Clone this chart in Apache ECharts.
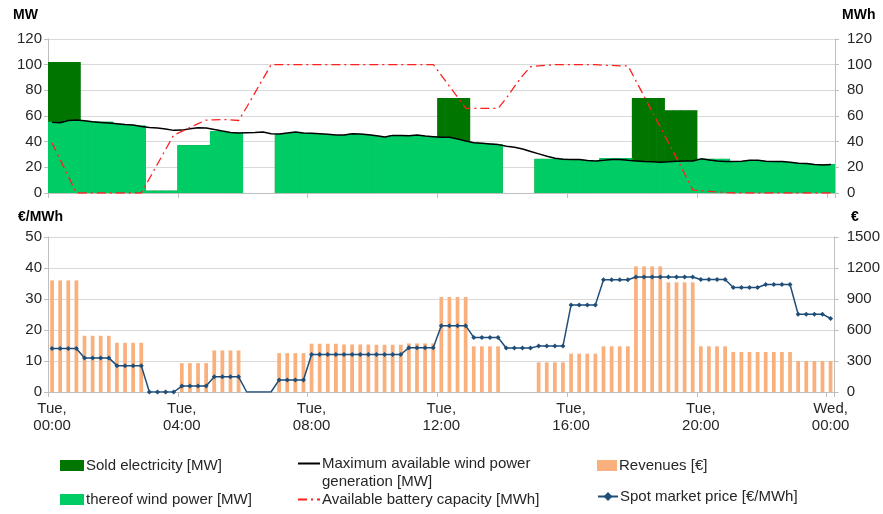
<!DOCTYPE html>
<html>
<head>
<meta charset="utf-8">
<script src="https://cdn.jsdelivr.net/npm/echarts@6/dist/echarts.min.js"></script>
<style>
  html, body { margin: 0; padding: 0; background: #fff; }
  #main { width: 883px; height: 514px; }
</style>
</head>
<body>
<div id="main"></div>
<script>
// 15-minute slots from Tue 00:00 to Wed 00:00 (97 points)
const tickLabels = ['Tue,\n00:00', 'Tue,\n04:00', 'Tue,\n08:00', 'Tue,\n12:00', 'Tue,\n16:00', 'Tue,\n20:00', 'Wed,\n00:00']
const slots = []
for (let i = 0; i <= 96; i++) {
    slots.push(i % 16 === 0 ? tickLabels[i / 16] : String(i))
}

// sold electricity [MW]
const soldMW = [
    102, 102, 102, 102, 55.5, 55.5, 55.5, 55.5, 52.5, 52.5, 52.5, 52.5, 1.8, 1.8, 1.8, 1.8,
    37.2, 37.2, 37.2, 37.2, 46.9, 46.9, 46.9, 46.9, 0, 0, 0, 0, 45.9, 45.9, 45.9, 45.9,
    45.2, 45.2, 45.2, 45.2, 45.2, 45.2, 45.2, 45.2, 43.6, 43.6, 43.6, 43.6, 43.9, 43.9, 43.9, 43.9,
    74.1, 74.1, 74.1, 74.1, 38, 38, 38, 38, 0, 0, 0, 0, 26.6, 26.6, 26.6, 26.6,
    25, 25, 25, 25, 27.1, 27.1, 27.1, 27.1, 74.1, 74.1, 74.1, 74.1, 64.5, 64.5, 64.5, 64.5,
    26.6, 26.6, 26.6, 26.6, 24.5, 24.5, 24.5, 24.5, 24, 24, 24, 24, 22.5, 22.5, 22.5, 22.5,
    22.5
]

// thereof wind power [MW]
const windMW = [
    55.5, 55, 56.5, 56.8, 56.3, 55.8, 55.5, 55.5, 54, 53.4, 52.9, 52.5, 1.8, 1.8, 1.8, 1.8,
    37.2, 37.2, 37.2, 37.2, 48.3, 48.3, 47.5, 46.9, 0, 0, 0, 0, 45.9, 46.7, 47.5, 46.7,
    46.5, 46.2, 45.7, 45.2, 45.2, 46.2, 45.9, 45.4, 44.6, 43.6, 44.9, 44.9, 44.6, 45.2, 44.4, 43.9,
    43.4, 43.4, 42.1, 40.5, 39.5, 39, 38.5, 38, 0, 0, 0, 0, 26.6, 26.6, 26.6, 26.6,
    26.1, 26.1, 25.3, 25, 27.1, 27.1, 27.1, 27.1, 25, 24.5, 24.3, 24, 24.3, 24.8, 25, 25,
    26.6, 26.6, 26.6, 26.6, 24.5, 24.8, 25.5, 25.5, 24.8, 24.5, 24.5, 24, 23.2, 23, 22.5, 22.5,
    22.5
]

// maximum available wind power generation [MW]
const maxWindMW = [
    55.2, 54.7, 56.5, 56.8, 56.3, 55.5, 55, 54.5, 54, 53.4, 52.9, 51.9, 51.1, 50.6, 49.8, 48.8,
    49, 50, 50.8, 50.6, 49.5, 48.3, 47.2, 46.7, 47, 47.2, 47.5, 46.2, 45.9, 46.7, 47.5, 46.7,
    46.5, 46.2, 45.7, 45.2, 45.2, 46.2, 45.9, 45.4, 44.6, 43.6, 44.9, 44.9, 44.6, 45.2, 44.4, 43.9,
    43.4, 43.4, 42.1, 40.5, 39.2, 38.7, 38.2, 37.7, 36.4, 35.6, 34.3, 32.3, 30.5, 28.6, 27.1, 26.3,
    26.1, 26.1, 25.3, 25, 25.5, 26.1, 26.1, 25.5, 25, 24.5, 24.3, 24, 24.3, 24.8, 25, 25,
    26.6, 25.8, 25, 24.5, 24.5, 24.8, 25.5, 25.5, 24.8, 24.5, 24.5, 24, 23.2, 23, 22.2, 21.9,
    22.2
]

// available battery capacity [MWh]
const batteryMWh = [
    39, 26, 13, 0, 0, 0, 0, 0, 0, 0, 0, 0, 11.3, 22.6, 34, 45.2,
    48, 51, 54, 56.8, 57, 57.3, 57, 56.5, 67, 78, 89, 100, 100, 100, 100, 100,
    100, 100, 100, 100, 100, 100, 100, 100, 100, 100, 100, 100, 100, 100, 100, 100,
    91.5, 83, 74.5, 66, 66, 66, 66, 66, 74, 83, 91.5, 98.5, 99, 99.5, 100, 100,
    100, 100, 100, 100, 99.5, 99.5, 99, 99, 87, 75, 63, 51, 39, 27, 14.5, 2.2,
    1.8, 1.3, 0.8, 0.4, 0, 0, 0, 0, 0, 0, 0, 0, 0, 0, 0, 0,
    0
]

// revenues [€]
const revenuesEUR = [
    1080, 1080, 1080, 1080, 544, 544, 544, 544, 476, 476, 476, 476, 0, 0, 0, 0,
    279, 279, 279, 279, 402, 402, 402, 402, 0, 0, 0, 0, 376, 376, 376, 376,
    467, 467, 467, 467, 460, 460, 460, 460, 457, 457, 457, 457, 470, 470, 470, 470,
    919, 919, 919, 919, 442, 442, 442, 442, 0, 0, 0, 0, 287, 287, 287, 287,
    371, 371, 371, 371, 442, 442, 442, 442, 1216, 1216, 1216, 1216, 1061, 1061, 1061, 1061,
    442, 442, 442, 442, 387, 387, 387, 387, 387, 387, 387, 387, 300, 300, 300, 300,
    300
]

// spot market price [€/MWh]
const spotPrice = [
    14, 14, 14, 14, 11, 11, 11, 11, 8.5, 8.5, 8.5, 8.5, 0, 0, 0, 0,
    1.9, 1.9, 1.9, 1.9, 4.9, 4.9, 4.9, 4.9, 0, 0, 0, 0, 3.9, 3.9, 3.9, 3.9,
    12.1, 12.1, 12.1, 12.1, 12.1, 12.1, 12.1, 12.1, 12.1, 12.1, 12.1, 12.1, 14.3, 14.3, 14.3, 14.3,
    21.4, 21.4, 21.4, 21.4, 17.6, 17.6, 17.6, 17.6, 14.2, 14.2, 14.2, 14.2, 14.8, 14.8, 14.8, 14.8,
    28.1, 28.1, 28.1, 28.1, 36.2, 36.2, 36.2, 36.2, 37.1, 37.1, 37.1, 37.1, 37.1, 37.1, 37.1, 37.1,
    36.3, 36.3, 36.3, 36.3, 33.7, 33.7, 33.7, 33.7, 34.7, 34.7, 34.7, 34.7, 25.1, 25.1, 25.1, 25.1,
    23.7
]
// slots where the price line has no marker
const priceNoMarker = [24, 25, 26, 27]

const FONT = 'Liberation Sans'
const axisGray = '#bfbfbf'
const gridGray = '#d9d9d9'
const textColor = '#262626'
const every16 = (idx) => idx % 16 === 0
const blankZero = (arr) => arr.map(v => v === 0 ? null : v)

function xAxisFor(gridIndex, showLabels) {
    return {
        type: 'category',
        gridIndex: gridIndex,
        data: slots,
        boundaryGap: true,
        axisLine: { show: true, lineStyle: { color: axisGray } },
        axisTick: { show: true, interval: every16, length: 5, lineStyle: { color: axisGray } },
        axisLabel: {
            show: showLabels,
            interval: every16,
            color: textColor,
            fontFamily: FONT,
            fontSize: 15,
            lineHeight: 17,
            margin: 8
        },
        splitLine: { show: false }
    }
}

function yAxisFor(gridIndex, position, max, interval, showSplit) {
    return {
        type: 'value',
        gridIndex: gridIndex,
        position: position,
        min: 0,
        max: max,
        interval: interval,
        axisLine: { show: true, lineStyle: { color: axisGray } },
        axisTick: { show: true, length: 4, lineStyle: { color: axisGray } },
        axisLabel: {
            color: textColor,
            fontFamily: FONT,
            fontSize: 15,
            margin: position === 'left' ? 6 : 12,
            formatter: (v) => String(v)
        },
        splitLine: { show: showSplit, lineStyle: { color: gridGray } }
    }
}

function legendFor(name, left, top, w, h, extra) {
    return Object.assign({
        data: [name],
        left: left,
        top: top,
        itemWidth: w,
        itemHeight: h,
        itemGap: 2,
        padding: 0,
        selectedMode: false,
        textStyle: { color: textColor, fontFamily: FONT, fontSize: 15, padding: [0, 0, 0, -3] }
    }, extra || {})
}

const unitStyle = { fontFamily: FONT, fontSize: 14, fontWeight: 'bold', fill: '#000' }

var chartDom = document.getElementById('main')
var myChart = echarts.init(chartDom)
var option

option = {
    animation: false,
    backgroundColor: '#fff',
    grid: [
        { left: 48, top: 39, width: 787, height: 154 },
        { left: 48, top: 237, width: 787, height: 155 }
    ],
    xAxis: [xAxisFor(0, false), xAxisFor(1, true)],
    yAxis: [
        yAxisFor(0, 'left', 120, 20, true),
        yAxisFor(0, 'right', 120, 20, false),
        yAxisFor(1, 'left', 50, 10, true),
        yAxisFor(1, 'right', 1500, 300, false)
    ],
    graphic: [
        { type: 'text', left: 13, top: 8, style: Object.assign({ text: 'MW' }, unitStyle) },
        { type: 'text', left: 842, top: 8, style: Object.assign({ text: 'MWh' }, unitStyle) },
        { type: 'text', left: 18, top: 210, style: Object.assign({ text: '€/MWh' }, unitStyle) },
        { type: 'text', left: 851, top: 210, style: Object.assign({ text: '€' }, unitStyle) },
        { type: 'text', left: 322, top: 474, style: { text: 'generation [MW]', fontFamily: FONT, fontSize: 15, fill: textColor } }
    ],
    legend: [
        legendFor('Sold electricity [MW]', 60, 458, 24, 11, { icon: 'rect' }),
        legendFor('thereof wind power [MW]', 60, 492, 24, 11, { icon: 'rect' }),
        legendFor('Maximum available wind power generation [MW]', 297, 456, 22, 11, {
            formatter: () => 'Maximum available wind power',
            itemStyle: { opacity: 0 }
        }),
        legendFor('Available battery capacity [MWh]', 297, 492, 22, 11, { itemStyle: { opacity: 0 } }),
        legendFor('Revenues [€]', 597, 458, 20, 11, { icon: 'rect' }),
        legendFor('Spot market price [€/MWh]', 597, 489, 20, 11)
    ],
    series: [
        {
            name: 'Sold electricity [MW]',
            type: 'bar',
            xAxisIndex: 0,
            yAxisIndex: 0,
            barCategoryGap: '-8%',
            itemStyle: { color: '#007500' },
            data: blankZero(soldMW)
        },
        {
            name: 'thereof wind power [MW]',
            type: 'bar',
            xAxisIndex: 0,
            yAxisIndex: 0,
            barGap: '-100%',
            barCategoryGap: '-8%',
            itemStyle: { color: '#00cc66' },
            data: blankZero(windMW)
        },
        {
            name: 'Maximum available wind power generation [MW]',
            type: 'line',
            xAxisIndex: 0,
            yAxisIndex: 0,
            symbol: 'none',
            lineStyle: { color: '#000', width: 1.5 },
            itemStyle: { color: '#000' },
            data: maxWindMW,
            z: 3
        },
        {
            name: 'Available battery capacity [MWh]',
            type: 'line',
            xAxisIndex: 0,
            yAxisIndex: 1,
            symbol: 'none',
            lineStyle: { color: '#ff1f1f', width: 1.3, type: [9, 4, 2, 4] },
            itemStyle: { color: '#ff1f1f' },
            data: batteryMWh,
            z: 4
        },
        {
            name: 'Revenues [€]',
            type: 'bar',
            xAxisIndex: 1,
            yAxisIndex: 3,
            barWidth: '46%',
            itemStyle: { color: '#f9b07c' },
            data: blankZero(revenuesEUR)
        },
        {
            name: 'Spot market price [€/MWh]',
            type: 'line',
            xAxisIndex: 1,
            yAxisIndex: 2,
            symbol: 'diamond',
            symbolSize: 5,
            lineStyle: { color: '#1f4e79', width: 1.5 },
            itemStyle: { color: '#1f4e79' },
            data: spotPrice.map((v, i) => priceNoMarker.indexOf(i) >= 0 ? { value: v, symbol: 'none' } : v),
            z: 3
        }
    ]
}

option && myChart.setOption(option)
</script>
</body>
</html>
